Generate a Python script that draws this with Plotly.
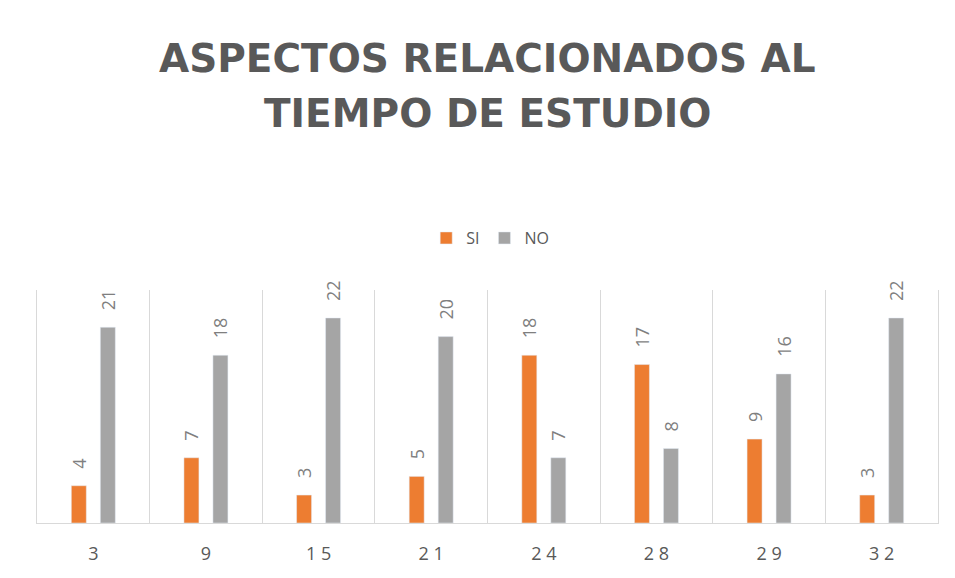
import plotly.graph_objects as go

categories = ["3", "9", "15", "21", "24", "28", "29", "32"]
si_values = [4, 7, 3, 5, 18, 17, 9, 3]
no_values = [21, 18, 22, 20, 7, 8, 16, 22]
tick_labels = ["3", "9", "1 5", "2 1", "2 4", "2 8", "2 9", "3 2"]
title_lines = ["ASPECTOS RELACIONADOS AL", "TIEMPO DE ESTUDIO"]

label_font = dict(family="Open Sans", size=18, color="#7f7f7f")
pad = "\u00a0\u00a0\u00a0"

fig = go.Figure()
fig.add_trace(go.Bar(
    x=categories, y=si_values, name="SI",
    marker=dict(color="#ED7D31"),
    texttemplate=pad + "%{y}", textposition="outside", constraintext="none",
    textangle=-90, textfont=label_font, cliponaxis=False,
))
fig.add_trace(go.Bar(
    x=categories, y=no_values, name="NO",
    marker=dict(color="#A5A5A5"),
    texttemplate=pad + "%{y}", textposition="outside", constraintext="none",
    textangle=-90, textfont=label_font, cliponaxis=False,
))

W, H = 947, 570
top, bottom = 282, 55
plot_h = H - top - bottom
title_font = dict(family="DejaVu Sans", size=39, color="#595959", weight="bold")
for line, yc in zip(title_lines, [50, 105]):
    fig.add_annotation(
        text=line, xref="paper", yref="paper", x=0.5, xanchor="center",
        y=(H - bottom - yc) / plot_h, yanchor="middle", showarrow=False,
        font=title_font,
    )

fig.update_layout(
    width=W, height=H,
    paper_bgcolor="white", plot_bgcolor="white",
    margin=dict(l=29, r=17, t=top, b=bottom, autoexpand=False),
    barmode="group", bargap=0.485, bargroupgap=0.483,
    legend=dict(
        orientation="h", x=0.503, xanchor="center", y=1.223, yanchor="middle",
        font=dict(family="Open Sans", size=16, color="#595959"),
        traceorder="normal",
    ),
    showlegend=True,
)
fig.update_xaxes(
    type="category", tickvals=categories, ticktext=tick_labels,
    tickson="boundaries", showgrid=True, gridcolor="#D9D9D9", gridwidth=1,
    ticks="", showline=True, linecolor="#D9D9D9", linewidth=1,
    tickfont=dict(family="Open Sans", size=18, color="#595959"),
    ticklabelstandoff=14,
)
fig.update_yaxes(
    range=[0, 25], showgrid=False, showticklabels=False, zeroline=False,
    showline=True, mirror=True, linecolor="#D9D9D9", linewidth=1,
)

fig.write_html("out.html")
